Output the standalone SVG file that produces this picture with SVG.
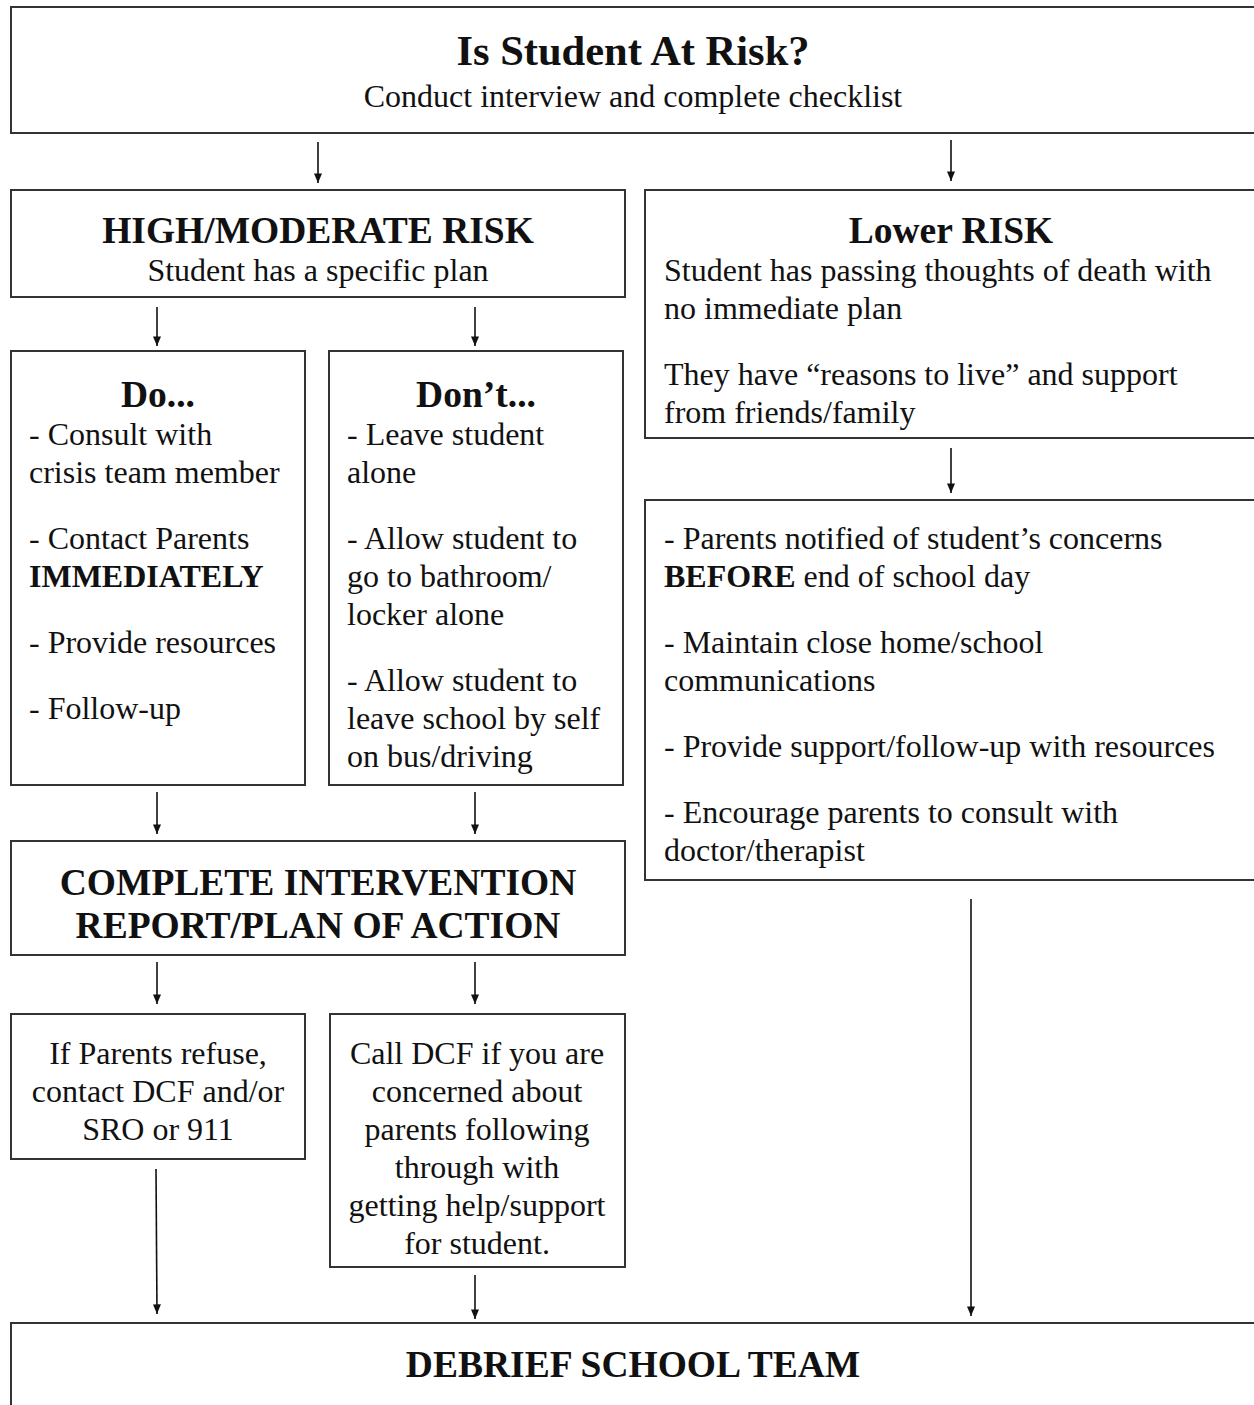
<svg xmlns="http://www.w3.org/2000/svg" width="1254" height="1405" viewBox="0 0 1254 1405">
<defs>
<marker id="ah" viewBox="0 0 12 10" refX="12" refY="5" markerWidth="11" markerHeight="8" markerUnits="userSpaceOnUse" orient="auto">
<path d="M0,0 L12,5 L0,10 Z" fill="#111"/>
</marker>
<style>
.box{fill:#fff;stroke:#333;stroke-width:2}
.t{font-family:"Liberation Serif","Times New Roman",serif;font-size:32px;fill:#111}
.b{font-weight:bold}
.c{text-anchor:middle}
.h{font-family:"Liberation Serif","Times New Roman",serif;font-weight:bold;font-size:37.5px;fill:#111;text-anchor:middle}
.conn line{stroke:#111;stroke-width:1.6}
</style>
</defs>
<rect width="1254" height="1405" fill="#fff"/>

<g id="top">
<rect class="box" x="11" y="7" width="1260" height="126"/>
<text class="h" x="633" y="65" style="font-size:42.5px">Is Student At Risk?</text>
<text class="t c" x="633" y="107">Conduct interview and complete checklist</text>
</g>

<g id="high">
<rect class="box" x="11" y="190" width="614" height="107"/>
<text class="h" x="318" y="243">HIGH/MODERATE RISK</text>
<text class="t c" x="318" y="281">Student has a specific plan</text>
</g>

<g id="lower">
<rect class="box" x="645" y="190" width="620" height="248"/>
<text class="h" x="951" y="243">Lower RISK</text>
<text class="t" x="664" y="281">Student has passing thoughts of death with</text>
<text class="t" x="664" y="319">no immediate plan</text>
<text class="t" x="664" y="385">They have “reasons to live” and support</text>
<text class="t" x="664" y="423">from friends/family</text>
</g>

<g id="do">
<rect class="box" x="11" y="351" width="294" height="434"/>
<text class="h" x="158" y="407">Do...</text>
<text class="t" x="29" y="445">- Consult with</text>
<text class="t" x="29" y="483">crisis team member</text>
<text class="t" x="29" y="549">- Contact Parents</text>
<text class="t b" x="29" y="587">IMMEDIATELY</text>
<text class="t" x="29" y="653">- Provide resources</text>
<text class="t" x="29" y="719">- Follow-up</text>
</g>

<g id="dont">
<rect class="box" x="329" y="351" width="294" height="434"/>
<text class="h" x="476" y="407">Don’t...</text>
<text class="t" x="347" y="445">- Leave student</text>
<text class="t" x="347" y="483">alone</text>
<text class="t" x="347" y="549">- Allow student to</text>
<text class="t" x="347" y="587">go to bathroom/</text>
<text class="t" x="347" y="625">locker alone</text>
<text class="t" x="347" y="691">- Allow student to</text>
<text class="t" x="347" y="729">leave school by self</text>
<text class="t" x="347" y="767">on bus/driving</text>
</g>

<g id="lowerActions">
<rect class="box" x="645" y="500" width="620" height="380"/>
<text class="t" x="664" y="549">- Parents notified of student’s concerns</text>
<text class="t" x="664" y="587"><tspan class="b">BEFORE</tspan> end of school day</text>
<text class="t" x="664" y="653">- Maintain close home/school</text>
<text class="t" x="664" y="691">communications</text>
<text class="t" x="664" y="757">- Provide support/follow-up with resources</text>
<text class="t" x="664" y="823">- Encourage parents to consult with</text>
<text class="t" x="664" y="861">doctor/therapist</text>
</g>

<g id="complete">
<rect class="box" x="11" y="841" width="614" height="114"/>
<text class="h" x="318" y="895">COMPLETE INTERVENTION</text>
<text class="h" x="318" y="938">REPORT/PLAN OF ACTION</text>
</g>

<g id="refuse">
<rect class="box" x="11" y="1014" width="294" height="145"/>
<text class="t c" x="158" y="1064">If Parents refuse,</text>
<text class="t c" x="158" y="1102">contact DCF and/or</text>
<text class="t c" x="158" y="1140">SRO or 911</text>
</g>

<g id="dcf">
<rect class="box" x="330" y="1014" width="295" height="253"/>
<text class="t c" x="477" y="1064">Call DCF if you are</text>
<text class="t c" x="477" y="1102">concerned about</text>
<text class="t c" x="477" y="1140">parents following</text>
<text class="t c" x="477" y="1178">through with</text>
<text class="t c" x="477" y="1216">getting help/support</text>
<text class="t c" x="477" y="1254">for student.</text>
</g>

<g id="debrief">
<rect class="box" x="11" y="1323" width="1260" height="120"/>
<text class="h" x="633" y="1377">DEBRIEF SCHOOL TEAM</text>
</g>

<g class="conn">
<line x1="318" y1="142" x2="318" y2="183" marker-end="url(#ah)"/>
<line x1="951" y1="140" x2="951" y2="181" marker-end="url(#ah)"/>
<line x1="157" y1="307" x2="157" y2="346" marker-end="url(#ah)"/>
<line x1="475" y1="307" x2="475" y2="346" marker-end="url(#ah)"/>
<line x1="951" y1="448" x2="951" y2="493" marker-end="url(#ah)"/>
<line x1="157" y1="792" x2="157" y2="834" marker-end="url(#ah)"/>
<line x1="475" y1="792" x2="475" y2="834" marker-end="url(#ah)"/>
<line x1="157" y1="962" x2="157" y2="1004" marker-end="url(#ah)"/>
<line x1="475" y1="962" x2="475" y2="1004" marker-end="url(#ah)"/>
<line x1="156" y1="1169" x2="157" y2="1314" marker-end="url(#ah)"/>
<line x1="475" y1="1275" x2="475" y2="1319" marker-end="url(#ah)"/>
<line x1="971" y1="899" x2="971" y2="1316" marker-end="url(#ah)"/>
</g>
</svg>
